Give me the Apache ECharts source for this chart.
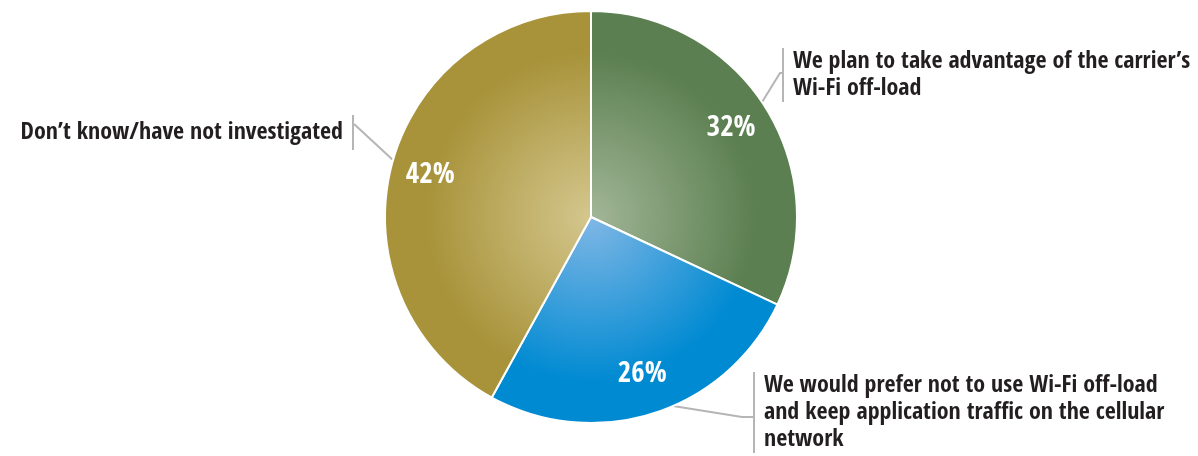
<!DOCTYPE html>
<html>
<head>
<meta charset="utf-8">
<title>Wi-Fi off-load plans</title>
<script src="https://cdn.jsdelivr.net/npm/echarts@6/dist/echarts.min.js"></script>
<style>
  html, body { margin: 0; padding: 0; background: #ffffff; }
  #chart { width: 1198px; height: 456px; }
</style>
</head>
<body>
<div id="chart"></div>
<script>
// Survey answers, clockwise from twelve o'clock
const labelLines = [
  ["We plan to take advantage of the carrier’s", "Wi-Fi off-load"],
  ["We would prefer not to use Wi-Fi off-load", "and keep application traffic on the cellular", "network"],
  ["Don’t know/have not investigated"]
];
const categories = labelLines.map(l => l.join(' '));
const shares = [32, 26, 42];

// Slice colours: light centre tint, darker rim
const centreColors = ['#a2b697', '#80b7e5', '#d4c78e'];
const rimColors = ['#5b7f50', '#008ad2', '#a8933a'];

const FONT = "'Open Sans Condensed', 'Roboto Condensed', 'Liberation Sans', sans-serif";
const CX = 591, CY = 217, R = 206;

// Where each callout block sits (left edge of bar / right edge of bar) and where the leader meets the bar
const calloutLayout = [
  { x: 782, y: 48, align: 'left', joinY: 73, elbow: 2 },
  { x: 753, y: 372, align: 'left', joinY: 417, elbow: 11 },
  { x: 354, y: 115, align: 'right', joinY: 124, elbow: 0 }
];

function slicePaint(i) {
  return {
    type: 'radial', x: CX, y: CY, r: R, global: true,
    colorStops: [
      { offset: 0, color: centreColors[i] },
      { offset: 0.8, color: rimColors[i] },
      { offset: 1, color: rimColors[i] }
    ]
  };
}

const sliceData = shares.map((v, i) => ({ name: categories[i], value: v }));

const chart = echarts.init(document.getElementById('chart'), null, { renderer: 'canvas' });

chart.setOption({
  backgroundColor: '#ffffff',
  animation: false,
  series: [
    {
      type: 'pie',
      center: [CX, CY],
      radius: R,
      startAngle: 90,
      clockwise: true,
      silent: true,
      data: sliceData.map((d, i) => ({ ...d, itemStyle: { color: slicePaint(i) } })),
      itemStyle: { borderColor: '#ffffff', borderWidth: 2 },
      label: { show: false },
      labelLine: { show: false }
    },
    {
      // percentage labels inside the slices
      type: 'pie',
      center: [CX, CY],
      radius: [120, R],
      startAngle: 90,
      clockwise: true,
      silent: true,
      data: sliceData,
      itemStyle: { color: 'rgba(0,0,0,0)' },
      label: {
        show: true,
        position: 'inside',
        formatter: '{c}%',
        color: '#ffffff',
        fontFamily: FONT,
        fontWeight: 'bold',
        fontSize: 29
      },
      labelLine: { show: false }
    },
    {
      // callouts with leader lines
      type: 'pie',
      center: [CX, CY],
      radius: 195,
      startAngle: 90,
      clockwise: true,
      silent: true,
      avoidLabelOverlap: false,
      data: sliceData,
      itemStyle: { color: 'rgba(0,0,0,0)' },
      label: {
        show: true,
        position: 'outside',
        formatter: p => {
          const lines = labelLines[p.dataIndex];
          if (calloutLayout[p.dataIndex].align === 'right') {
            return lines.map(l => `{tr|${l}}{barTall| }`).join('\n');
          }
          return lines.map(l => `{bar| }{t|${l}}`).join('\n');
        },
        rich: {
          t: { fontFamily: FONT, fontWeight: 'bold', fontSize: 24, color: '#231f20', lineHeight: 27, padding: [0, 0, 0, 9] },
          tr: { fontFamily: FONT, fontWeight: 'bold', fontSize: 24, color: '#231f20', lineHeight: 35, padding: [0, 9, 0, 0] },
          bar: { width: 2, height: 27, backgroundColor: '#b5b5b5' },
          barTall: { width: 2, height: 35, backgroundColor: '#b5b5b5' }
        }
      },
      labelLine: {
        show: true,
        length: 20,
        length2: 20,
        lineStyle: { color: '#b5b5b5', width: 2 }
      },
      labelLayout: params => {
        const c = calloutLayout[params.dataIndex];
        const start = params.labelLinePoints ? params.labelLinePoints[0] : [CX, CY];
        const dir = c.align === 'left' ? -1 : 1;
        const join = [c.x, c.joinY];
        const elbow = [join[0] + dir * c.elbow, c.joinY];
        return {
          x: c.x,
          y: c.y,
          align: c.align,
          verticalAlign: 'top',
          labelLinePoints: [start, elbow, join]
        };
      }
    }
  ]
});
</script>
</body>
</html>
